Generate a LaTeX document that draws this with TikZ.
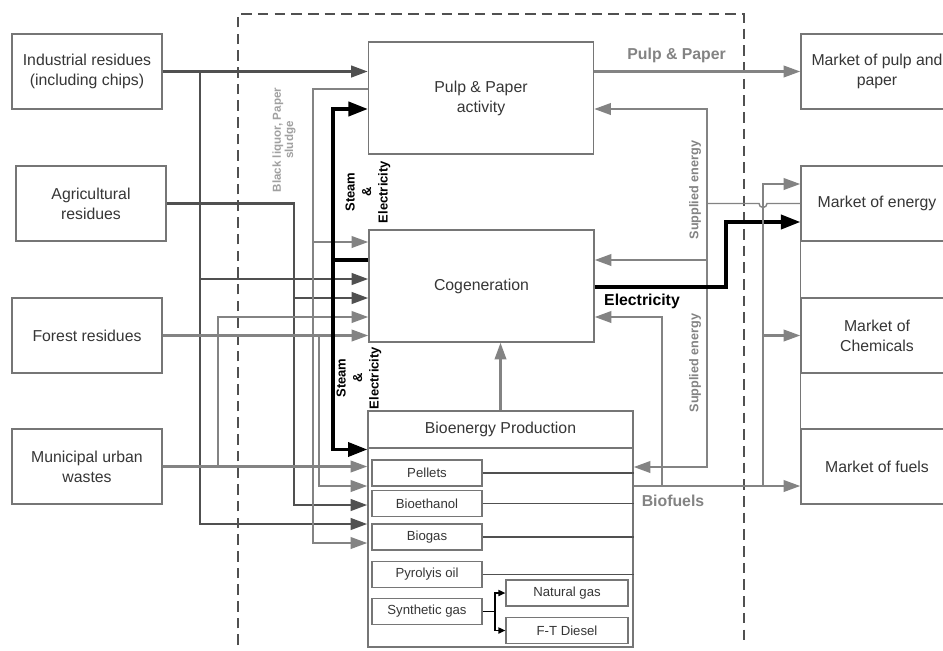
\documentclass[tikz,border=0pt]{standalone}
\usepackage{fontspec}
\setmainfont{Liberation Sans}
\usepackage{tikz}
\usetikzlibrary{arrows.meta, positioning}
\definecolor{flowDark}{HTML}{505050}
\definecolor{flowGrey}{HTML}{838383}
\definecolor{boxEdge}{HTML}{767676}
\definecolor{boxText}{HTML}{363636}
\definecolor{noteGrey}{HTML}{A0A0A0}

\begin{document}
\begin{tikzpicture}[
  x=0.02cm, y=-0.02cm,
  source/.style={draw=boxEdge, line width=0.8pt, text=boxText, minimum width=3cm,
                 minimum height=1.5cm, align=center, font=\fontsize{9}{11.4}\selectfont},
  unit/.style={draw=boxEdge, line width=0.8pt, text=boxText, minimum width=4.5cm,
               minimum height=2.24cm, align=center, font=\fontsize{9}{11.4}\selectfont},
  market/.style={draw=boxEdge, line width=0.8pt, text=boxText, minimum width=3.04cm,
                 minimum height=1.5cm, align=center, font=\fontsize{9}{11.4}\selectfont},
  product/.style={draw=boxEdge, line width=0.7pt, text=boxText, minimum width=2.2cm,
                  minimum height=0.52cm, inner sep=0pt, font=\fontsize{7.5}{9}\selectfont},
  dark/.style={-{Triangle[length=9.5pt, width=6.5pt]}, line width=1.6pt, draw=flowDark},
  grey/.style={-{Triangle[length=9.5pt, width=6.5pt]}, line width=1.4pt, draw=flowGrey},
  steam/.style={-{Triangle[length=11pt, width=8pt]}, line width=2pt, draw=black},
  thin/.style={line width=0.8pt, draw=flowDark},
  tiny/.style={-{Triangle[length=4pt, width=3.5pt]}, line width=0.8pt, draw=black},
  boundary/.style={dashed, dash pattern=on 6pt off 3.5pt, line width=0.7pt, draw=flowDark},
  vlabel/.style={rotate=90, align=center, font=\bfseries\fontsize{7.4}{9.4}\selectfont},
  flowlabel/.style={font=\bfseries\fontsize{9}{11}\selectfont}
]
\clip (0,0) rectangle (943,650);
\fill[white] (0,0) rectangle (943,650);

% sources
\node[source] (ind) at (87,71.5) {Industrial residues\\(including chips)};
\node[source] (agr) at (91,203.5) {Agricultural\\residues};
\node[source] (for) at (87,335.5) {Forest residues};
\node[source] (mun) at (87,466.5) {Municipal urban\\wastes};

% mill
\draw[boundary] (238,645) |- (744,14) -- (744,645);
\node[unit] (pulp) at (481,98) {Pulp \& Paper\\activity};
\node[unit] (cogen) at (481.5,286) {Cogeneration};
\node[draw=boxEdge, line width=0.8pt, minimum width=5.3cm, minimum height=4.72cm] (bioout) at (500.5,529) {};
\node[draw=boxEdge, line width=0.8pt, minimum width=5.3cm, minimum height=0.74cm, text=boxText,
      font=\fontsize{9}{11}\selectfont] (biohead) at (500.5,429.5) {Bioenergy Production};
\node[product] (pellets) at (427,473) {Pellets};
\node[product] (bioeth) at (427,503.5) {Bioethanol};
\node[product] (biogas) at (427,537) {Biogas};
\node[product] (pyro) at (427,574.5) {Pyrolyis oil};
\node[product] (syngas) at (427,611.5) {Synthetic gas};
\node[product, minimum width=2.44cm] (natgas) at (567,593) {Natural gas};
\node[product, minimum width=2.44cm] (ftdiesel) at (567,630.5) {F-T Diesel};

% markets
\node[market] (mpulp) at (877,71.5) {Market of pulp and\\paper};
\node[market] (menergy) at (877,203.5) {Market of energy};
\node[market] (mchem) at (877,335.5) {Market of\\Chemicals};
\node[market] (mfuel) at (877,466.5) {Market of fuels};
\draw[draw=boxEdge, line width=0.8pt] (menergy.south west) -- (mfuel.north west);

% residues into the mill
\draw[dark] (ind.east) -- (ind.east -| pulp.west);
\draw[dark] (ind.east -| 200,0) |- (bioout.west |- 0,524);
\draw[dark] (200,279) -- (cogen.west |- 0,279);
\draw[dark] (agr.east) -| (294,505) -- (bioout.west |- 0,505);
\draw[dark] (294,298) -- (cogen.west |- 0,298);
\draw[grey] (for.east) -- (for.east -| cogen.west);
\draw[grey] (319,335.5) |- (bioout.west |- 0,486);
\draw[grey] (mun.east) -- (mun.east -| bioout.west);
\draw[grey] (218,466.5) |- (cogen.west |- 0,317);
\draw[grey] (pulp.west |- 0,89) -| (313,543) -- (bioout.west |- 0,543);
\draw[grey] (313,242) -- (cogen.west |- 0,242);
\node[vlabel, text=noteGrey, font=\bfseries\fontsize{6.6}{7}\selectfont] (liquor) at (284,140) {Black liquor, Paper\\sludge};

% steam and electricity
\draw[steam, -] (cogen.west |- 0,260) -- (333,260);
\draw[steam] (333,260) |- (pulp.west |- 0,109);
\draw[steam] (333,260) |- (bioout.west |- 0,449.5);
\node[vlabel] (steamtop) at (368,192) {Steam\\\&\\Electricity};
\node[vlabel] (steambot) at (359,378) {Steam\\\&\\Electricity};
\draw[grey] (bioout.north) -- (bioout.north |- cogen.south);

% outputs
\draw[grey] (pulp.east |- mpulp.west) -- (mpulp.west)
  node[pos=0.4, above=1pt, text=flowGrey, flowlabel] {Pulp \& Paper};
\draw[thin, draw=flowGrey] (menergy.west) -- (767,203.5) arc[start angle=0, end angle=180, radius=4] -- (707,203.5);
\draw[grey] (707,203.5) |- (pulp.east |- 0,109);
\draw[grey] (707,203.5) |- (bioout.east |- 0,467);
\draw[grey] (707,260) -- (cogen.east |- 0,260);
\node[vlabel, text=flowGrey, font=\bfseries\fontsize{7.2}{9}\selectfont] (suptop) at (695,190) {Supplied energy};
\node[vlabel, text=flowGrey, font=\bfseries\fontsize{7.2}{9}\selectfont] (supbot) at (695,363) {Supplied energy};
\draw[steam] (cogen.east |- 0,287) -| (726,222) -- (menergy.west |- 0,222);
\node[flowlabel] (elec) at (642,301) {Electricity};
\draw[grey] (bioout.east |- 0,486) -- (mfuel.west |- 0,486);
\node[flowlabel, text=flowGrey] (biofuels) at (673,501) {Biofuels};
\draw[grey] (662,486) |- (cogen.east |- 0,317);
\draw[grey] (763,486) |- (menergy.west |- 0,184);
\draw[grey] (763,335.5) -- (mchem.west);

% products inside the plant
\draw[thin] (pellets.east) -- (pellets.east -| bioout.east);
\draw[thin] (bioeth.east) -- (bioeth.east -| bioout.east);
\draw[thin] (biogas.east) -- (biogas.east -| bioout.east);
\draw[thin] (pyro.east) -- (pyro.east -| bioout.east);
\draw[tiny, -] (syngas.east) -- (495,611.5);
\draw[tiny] (495,611.5) |- (natgas.west);
\draw[tiny] (495,611.5) |- (ftdiesel.west);
\end{tikzpicture}
\end{document}
